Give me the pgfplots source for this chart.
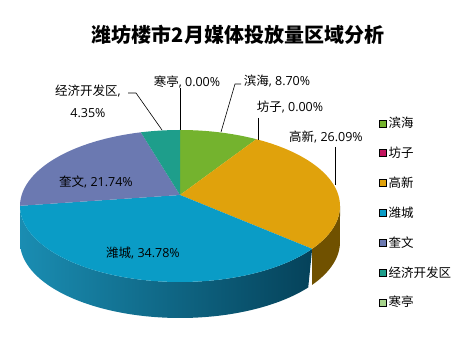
\documentclass[border=0pt]{standalone}
\usepackage{fontspec}
\setmainfont{Open Sans}
\newfontfamily\cjk{Noto Sans CJK SC}
\usepackage{pgfplots}
\usepackage{pgfplotstable}
\pgfplotsset{compat=1.18}

\definecolor{cBinhai}{HTML}{74B32E}
\definecolor{cFangzi}{HTML}{C3165F}
\definecolor{cGaoxin}{HTML}{E0A20C}
\definecolor{cWeicheng}{HTML}{0A9CC6}
\definecolor{cKuiwen}{HTML}{6B79B1}
\definecolor{cJingji}{HTML}{1E9E8B}
\definecolor{cHanting}{HTML}{A6D38C}
\definecolor{wWeiL}{HTML}{1A8DB2}
\definecolor{wWeiR}{HTML}{05425A}
\definecolor{wGao}{HTML}{705100}

% order: 滨海, 坊子, 高新, 潍城, 奎文, 经济开发区, 寒亭 (percent)
\pgfplotstableread{
idx value
0 8.70
1 0.00
2 26.09
3 34.78
4 21.74
5 4.35
6 0.00
}\piedata

\def\dd{0.145}% perspective offset of the pie centre
\newcommand\perspT[2]{%
  \pgfmathsetmacro\tmpu{cos(#1)*sqrt(1-\dd*\dd)/(1+\dd*sin(#1))}%
  \pgfmathsetmacro\tmpv{(sin(#1)+\dd)/(1+\dd*sin(#1))}%
  \pgfmathsetmacro\tmpt{atan2(\tmpv,\tmpu)}%
  \pgfmathsetmacro#2{\tmpt+360*round((#1-\tmpt)/360)}%
}
\newcommand\getval[2]{\pgfplotstablegetelem{#1}{value}\of\piedata\let#2\pgfplotsretval}

\begin{document}%
\getval{0}\vA\getval{1}\vB\getval{2}\vC\getval{3}\vD\getval{4}\vE\getval{5}\vF\getval{6}\vG%
\pgfmathsetmacro\total{\vA+\vB+\vC+\vD+\vE+\vF+\vG}%
\pgfmathsetmacro\thA{90}%
\pgfmathsetmacro\thB{\thA-\vA/\total*360}%
\pgfmathsetmacro\thC{\thB-\vB/\total*360}%
\pgfmathsetmacro\thD{\thC-\vC/\total*360}%
\pgfmathsetmacro\thE{\thD-\vD/\total*360}%
\pgfmathsetmacro\thF{\thE-\vE/\total*360}%
\pgfmathsetmacro\thG{\thF-\vF/\total*360}%
\perspT{\thA}\tA\perspT{\thB}\tB\perspT{\thC}\tC\perspT{\thD}\tD%
\perspT{\thE}\tE\perspT{\thF}\tF\perspT{\thG}\tG%
\pgfmathsetmacro\loGao{max(\tD,-180)}\pgfmathsetmacro\hiGao{min(\tC,0)}%
\pgfmathsetmacro\loWei{max(\tE,-180)}\pgfmathsetmacro\hiWei{min(\tD,0)}%
\begin{tikzpicture}
\begin{axis}[
  width=465pt, height=353pt, scale only axis,
  xmin=0, xmax=465, ymin=0, ymax=353,
  hide axis, clip=false,
  legend style={at={(axis cs:379,238)}, anchor=north west, draw=none, fill=none,
    inner sep=0pt, row sep=13.8pt, font=\cjk\fontsize{12.5}{14}\selectfont,
    /tikz/every even column/.style={column sep=4pt}},
  legend cell align=left,
  legend image code/.code={\fill[#1] (0pt,-3.5pt) rectangle (7pt,3.5pt);},
]
% side walls
\addplot[forget plot, draw=none, fill=wGao, domain=0:2, samples=121, variable=\s]
  ({180+160*cos(\loGao+(\hiGao-\loGao)*min(\s,2-\s))},
   {147+76*sin(\loGao+(\hiGao-\loGao)*min(\s,2-\s))-36*(\s>1)}) -- cycle;
\addplot[forget plot, draw=none, left color=wWeiL, right color=wWeiR, domain=0:2, samples=121, variable=\s]
  ({180+160*cos(\loWei+(\hiWei-\loWei)*min(\s,2-\s))},
   {147+76*sin(\loWei+(\hiWei-\loWei)*min(\s,2-\s))-36*(\s>1)}) -- cycle;
% top faces
\addplot[forget plot, draw=none, fill=cBinhai, domain=\tB:\tA, samples=60]
  ({180+160*cos(x)},{147+76*sin(x)}) -- (axis cs:180,158) -- cycle;
\addplot[forget plot, draw=none, fill=cGaoxin, domain=\tD:\tC, samples=80]
  ({180+160*cos(x)},{147+76*sin(x)}) -- (axis cs:180,158) -- cycle;
\addplot[forget plot, draw=none, fill=cWeicheng, domain=\tE:\tD, samples=100]
  ({180+160*cos(x)},{147+76*sin(x)}) -- (axis cs:180,158) -- cycle;
\addplot[forget plot, draw=none, fill=cKuiwen, domain=\tF:\tE, samples=80]
  ({180+160*cos(x)},{147+76*sin(x)}) -- (axis cs:180,158) -- cycle;
\addplot[forget plot, draw=none, fill=cJingji, domain=\tG:\tF, samples=40]
  ({180+160*cos(x)},{147+76*sin(x)}) -- (axis cs:180,158) -- cycle;
% leader lines
\addplot[forget plot, black, line width=0.6pt] coordinates {(180,265) (180,223)};
\addplot[forget plot, black, line width=0.6pt] coordinates {(128,260) (136,260) (162,223)};
\addplot[forget plot, black, line width=0.6pt] coordinates {(241,269) (235,269) (221,221)};
\addplot[forget plot, black, line width=0.6pt] coordinates {(258,235) (258,213)};
\addplot[forget plot, black, line width=0.6pt] coordinates {(335,206) (335,168)};
% labels
\begin{scope}[every node/.style={font=\fontsize{12.5}{22}\selectfont, inner sep=0pt}]
\node at (axis cs:187,271) {{\cjk 寒亭}, 0.00\%};
\node[align=center] at (axis cs:88,252) {{\cjk 经济开发区},\\4.35\%};
\node at (axis cs:277,272) {{\cjk 滨海}, 8.70\%};
\node at (axis cs:290,246) {{\cjk 坊子}, 0.00\%};
\node at (axis cs:326,216) {{\cjk 高新}, 26.09\%};
\node at (axis cs:96,171) {{\cjk 奎文}, 21.74\%};
\node at (axis cs:143,100) {{\cjk 潍城}, 34.78\%};
\end{scope}
\node[font=\cjk\fontsize{20}{22}\selectfont\bfseries] at (axis cs:238,318) {潍坊楼市2月媒体投放量区域分析};
% legend
\addlegendimage{fill=cBinhai}\addlegendentry{滨海}
\addlegendimage{fill=cFangzi}\addlegendentry{坊子}
\addlegendimage{fill=cGaoxin}\addlegendentry{高新}
\addlegendimage{fill=cWeicheng}\addlegendentry{潍城}
\addlegendimage{fill=cKuiwen}\addlegendentry{奎文}
\addlegendimage{fill=cJingji}\addlegendentry{经济开发区}
\addlegendimage{fill=cHanting}\addlegendentry{寒亭}
\path (axis cs:0,0) rectangle (axis cs:465,353);
\end{axis}
\end{tikzpicture}%
\end{document}
